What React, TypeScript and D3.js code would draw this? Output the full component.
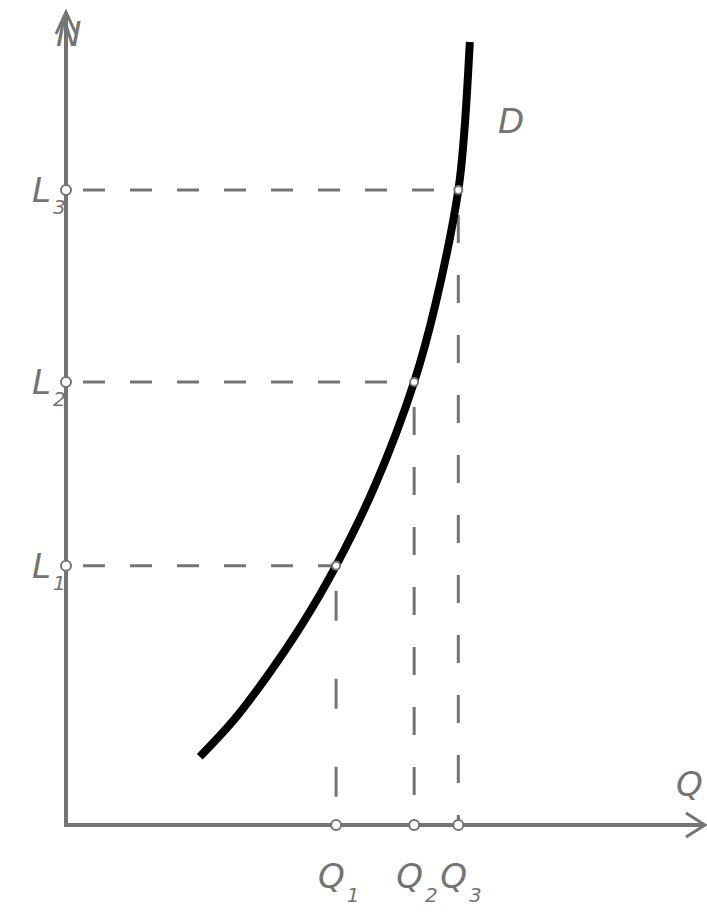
import { useEffect, useRef } from "react";
import * as d3 from "d3";

// curve D (Q on x, N on y)
const curveQ = [2.09, 2.63, 3.16, 3.69, 4.22, 4.83, 5.44, 5.78, 6.13, 6.22, 6.31];
const curveN = [0.84, 1.30, 1.85, 2.47, 3.19, 4.18, 5.45, 6.43, 7.81, 8.49, 9.63];

// marked points
const markQ = [4.22, 5.44, 6.13];
const markN = [3.19, 5.45, 7.81];
const qLabels = ["1", "2", "3"];
const nLabels = ["1", "2", "3"];

export default function App() {
    const ref = useRef<SVGSVGElement>(null);
    const W = 707;
    const H = 912;

    useEffect(() => {
        document.body.style.margin = "0";
        const svg = d3.select(ref.current);
        svg.selectAll("*").remove();

        const x = d3.scaleLinear().domain([0, 10]).range([66, 706]);
        const y = d3.scaleLinear().domain([0, 10]).range([825, 12]);

        const grey = "#747474";
        const font = "'DejaVu Sans', sans-serif";

        // dashed guides
        const guides = svg.append("g").attr("stroke", grey).attr("stroke-width", 3).attr("fill", "none");
        markQ.forEach((q, i) => {
            guides.append("line")
                .attr("x1", x(0) + 17).attr("x2", x(q))
                .attr("y1", y(markN[i])).attr("y2", y(markN[i]))
                .attr("stroke-dasharray", "22 25");
            guides.append("line")
                .attr("x1", x(q)).attr("x2", x(q))
                .attr("y1", y(markN[i]) + 25).attr("y2", y(0))
                .attr("stroke-dasharray", i === 0 ? "30 58" : "28 32");
        });

        // axes
        const axes = svg.append("g").attr("stroke", grey).attr("stroke-width", 4).attr("fill", "none");
        axes.append("line").attr("x1", x(0)).attr("x2", x(0)).attr("y1", y(0) + 2).attr("y2", 14);
        axes.append("line").attr("x1", x(0) - 2).attr("x2", 703).attr("y1", y(0)).attr("y2", y(0));
        axes.append("path").attr("stroke-width", 3)
            .attr("d", `M${686},${y(0) - 12} L${705},${y(0)} L${686},${y(0) + 12}`);
        axes.append("path").attr("stroke-width", 3)
            .attr("d", `M${x(0) - 10},${34} L${x(0)},${12} L${x(0) + 10},${34}`);

        // curve D
        const pts = curveQ.map((q, i) => [q, curveN[i]] as [number, number]);
        svg.append("path")
            .datum(pts)
            .attr("fill", "none")
            .attr("stroke", "#000")
            .attr("stroke-width", 8)
            .attr("d", d3.line<[number, number]>()
                .x(d => x(d[0]))
                .y(d => y(d[1]))
                .curve(d3.curveCatmullRom));

        // small circles
        const dots = svg.append("g").attr("fill", "#fff").attr("stroke", grey).attr("stroke-width", 2);
        markQ.forEach((q, i) => {
            dots.append("circle").attr("cx", x(0)).attr("cy", y(markN[i])).attr("r", 5);
            dots.append("circle").attr("cx", x(q)).attr("cy", y(0)).attr("r", 5);
            dots.append("circle").attr("cx", x(q)).attr("cy", y(markN[i])).attr("r", 4);
        });

        // labels
        const txt = svg.append("g").attr("fill", grey).attr("font-family", font).attr("font-style", "italic");
        markN.forEach((n, i) => {
            const t = txt.append("text").attr("x", 32).attr("y", y(n) + 12).attr("font-size", 34);
            t.append("tspan").text("L");
            t.append("tspan").attr("font-size", 20).attr("dy", 12).attr("dx", 2).text(nLabels[i]);
        });
        markQ.forEach((q, i) => {
            const t = txt.append("text").attr("x", x(q) - 18).attr("y", y(0) + 63).attr("font-size", 34);
            t.append("tspan").text("Q");
            t.append("tspan").attr("font-size", 20).attr("dy", 14).attr("dx", 2).text(qLabels[i]);
        });
        txt.append("text").attr("x", 56).attr("y", 46).attr("font-size", 34).text("N");
        txt.append("text").attr("x", 498).attr("y", 133).attr("font-size", 34).text("D");
        txt.append("text").attr("x", 676).attr("y", 796).attr("font-size", 34).text("Q");
    }, []);

    return (
        <svg ref={ref} width={W} height={H} style={{ display: "block", background: "#fff" }}></svg>
    );
}
